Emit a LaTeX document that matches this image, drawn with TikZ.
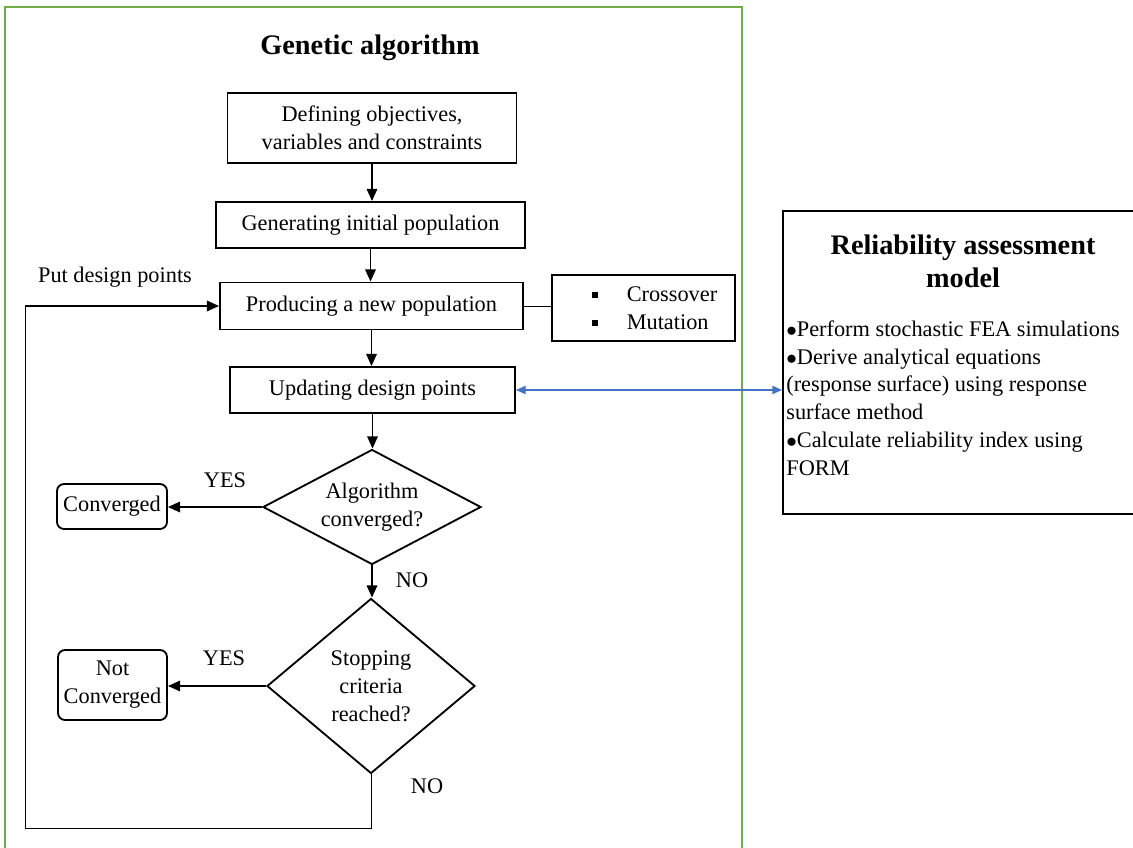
\documentclass[tikz,border=0pt]{standalone}
\usepackage{fontspec}
\setmainfont{Liberation Serif}
\usetikzlibrary{positioning, arrows.meta, shapes.geometric, calc}
\definecolor{frameGreen}{RGB}{112,173,71}
\definecolor{linkBlue}{RGB}{68,114,196}
\newcommand{\sqbul}{\hspace*{0.44cm}\raisebox{0.3ex}{\rule{3.4pt}{3.4pt}}\hspace{1.3em}}

\begin{document}
\begin{tikzpicture}[
  font=\fontsize{12.7}{15.9}\selectfont,
  pbox/.style={draw, line width=1.05pt, align=center, inner sep=2pt},
  rbox/.style={pbox, rounded corners=4pt},
  dbox/.style={draw, diamond, line width=1.05pt, align=center, inner sep=0pt},
  gtitle/.style={font=\fontsize{16.1}{18.7}\selectfont\bfseries, align=center},
  lbl/.style={inner sep=1pt},
  arr/.style={-{Triangle[length=7pt, width=6pt]}, line width=1.1pt},
  biarr/.style={{Triangle[length=5.5pt, width=4.6pt]}-{Triangle[length=5.5pt, width=4.6pt]}, linkBlue, line width=1pt},
  thinln/.style={line width=0.55pt},
]
  \useasboundingbox (0,0) rectangle (22.66,-16.94);

  % GA frame
  \draw[frameGreen, line width=1.1pt] (0.1,-17.1) -- (0.1,-0.14) -- (14.84,-0.14) -- (14.84,-17.1);
  \node[gtitle] (ga) at (7.4,-0.96) {Genetic algorithm};

  % main steps
  \node[pbox, minimum width=5.78cm, minimum height=1.4cm] (def) at (7.44,-2.56) {Defining objectives,\\variables and constraints};
  \node[pbox, minimum width=6.18cm, minimum height=0.92cm] (gen) at (7.41,-4.5) {Generating initial population};
  \node[pbox, minimum width=6.06cm, minimum height=0.94cm] (prod) at (7.43,-6.12) {Producing a new population};
  \node[pbox, minimum width=3.66cm, minimum height=1.32cm, align=left] (ops) at (12.87,-6.16) {\sqbul Crossover\\\sqbul Mutation};
  \node[pbox, minimum width=5.7cm, minimum height=0.92cm] (upd) at (7.45,-7.8) {Updating design points};
  \draw[thinln] (prod.east) -- (prod.east -| ops.west);

  % decisions
  \node[dbox, aspect=1.9, minimum width=4.36cm, minimum height=2.3cm] (conv) at (7.44,-10.14) {Algorithm\\converged?};
  \node[dbox, aspect=1.19, minimum width=4.16cm, minimum height=3.5cm] (stop) at (7.42,-13.72) {Stopping\\criteria\\reached?};

  \foreach \a/\b in {def/gen, gen/prod, prod/upd, upd/conv, conv/stop} {
    \draw[arr] (\a.south) -- (\a.south |- \b.north);
  }

  % outcomes
  \node[rbox, minimum width=2.2cm, minimum height=0.9cm] (done) at (2.24,-10.13) {Converged};
  \node[rbox, minimum width=2.18cm, minimum height=1.4cm] (fail) at (2.25,-13.7) {Not\\Converged};
  \draw[arr] (conv.west) -- (conv.west -| done.east);
  \draw[arr] (stop.west) -- (stop.west -| fail.east);
  \node[lbl] (yes1) at (4.5,-9.6) {YES};
  \node[lbl] (yes2) at (4.48,-13.16) {YES};
  \node[lbl] (no1) at (8.24,-11.6) {NO};
  \node[lbl] (no2) at (8.54,-15.72) {NO};

  % feedback loop
  \coordinate (fbBot) at (0.5,-16.56);
  \coordinate (fbTop) at (0.5,-6.12);
  \draw[thinln] (stop.south) |- (fbBot) -- (fbTop);
  \draw[arr] (fbTop) -- (prod.west);
  \node[lbl] (put) at (2.3,-5.54) {Put design points};

  % reliability model
  \node[pbox, minimum width=7.1cm, minimum height=6.06cm] (rel) at (19.21,-7.25) {};
  \node[gtitle] (reltitle) at (19.26,-5.22) {Reliability assessment\\model};
  \node[align=left, anchor=north west, inner sep=0pt] (relitems) at (15.72,-6.4)
    {$\bullet$Perform stochastic FEA simulations\\
     $\bullet$Derive analytical equations\\
     (response surface) using response\\
     surface method\\
     $\bullet$Calculate reliability index using\\
     FORM};
  \draw[biarr] (upd.east) -- (upd.east -| rel.west);
\end{tikzpicture}
\end{document}
